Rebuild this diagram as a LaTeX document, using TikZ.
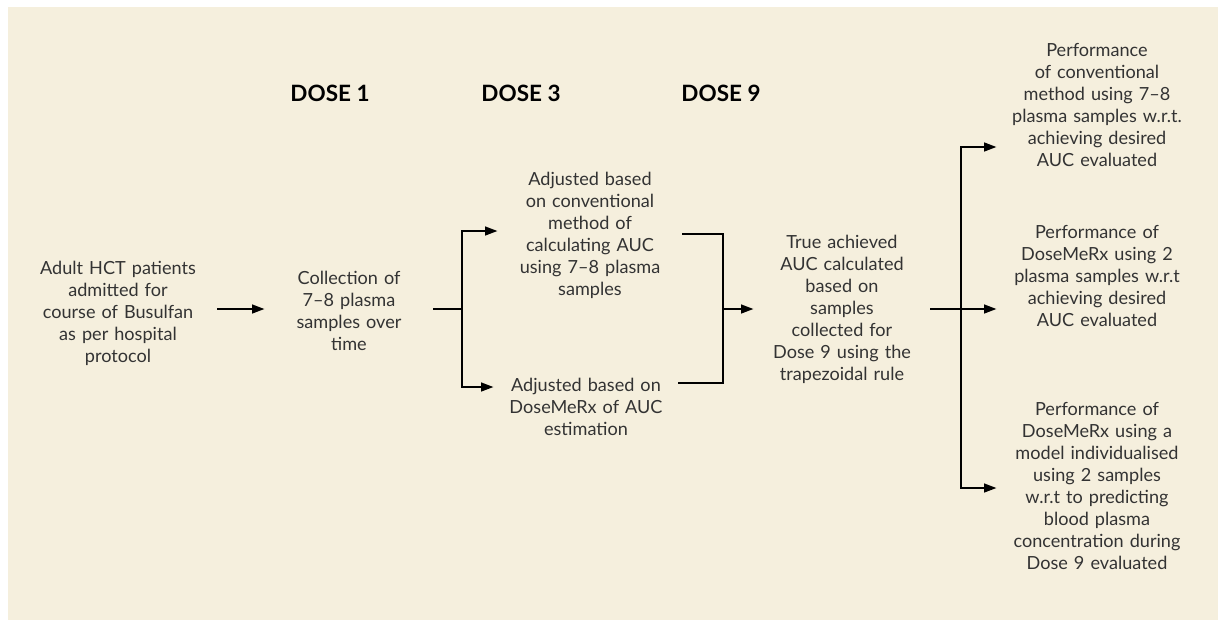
\documentclass[tikz,border=0pt]{standalone}
\usepackage{fontspec}
\setmainfont{Lato}
\usepackage{xcolor}
\usepackage{tikz}
\usetikzlibrary{arrows.meta}
\definecolor{flowbeige}{RGB}{245, 239, 221}
\definecolor{flowtext}{RGB}{51, 51, 51}

\begin{document}
\begin{tikzpicture}[x=0.02cm, y=-0.02cm,
    step text/.style={text=flowtext, align=center, inner sep=0pt,
                      font=\fontsize{10.3}{12.5}\selectfont},
    dose head/.style={text=black, font=\fontsize{12.8}{16}\selectfont\bfseries},
    link/.style={draw=black, line width=1.4pt},
    arr/.style={link, -{Triangle[length=0.25cm, width=0.17cm]}}]
            \useasboundingbox (0,0) rectangle (1218,620);
            \fill[flowbeige] (8,7) rectangle (1218,620);

            \node[dose head] (h1) at (330,93) {DOSE 1};
            \node[dose head] (h3) at (521,93) {DOSE 3};
            \node[dose head] (h9) at (721,93) {DOSE 9};

            \node[step text, text width=3.96cm] (adult) at (118,313)
                {Adult HCT patients\\ admitted for\\ course of Busulfan\\ as per hospital\\ protocol};
            \node[step text, text width=3.36cm] (collect) at (349,311)
                {Collection of\\ 7--8 plasma\\ samples over\\ time};
            \node[step text, text width=3.68cm] (conv) at (590,235)
                {Adjusted based\\ on conventional\\ method of\\ calculating AUC\\ using 7--8 plasma\\ samples};
            \node[step text, text width=3.68cm] (dmrx) at (586,407)
                {Adjusted based on\\ DoseMeRx of AUC\\ estimation};
            \node[step text, text width=3.52cm] (true) at (842,309)
                {True achieved\\ AUC calculated\\ based on\\ samples\\ collected for\\ Dose 9 using the\\ trapezoidal rule};
            \node[step text, text width=4cm] (perf1) at (1097,105)
                {Performance\\ of conventional\\ method using 7--8\\ plasma samples w.r.t.\\ achieving desired\\ AUC evaluated};
            \node[step text, text width=4cm] (perf2) at (1097,276)
                {Performance of\\ DoseMeRx using 2\\ plasma samples w.r.t\\ achieving desired\\ AUC evaluated};
            \node[step text, text width=4cm] (perf3) at (1097,486)
                {Performance of\\ DoseMeRx using a\\ model individualised\\ using 2 samples\\ w.r.t to predicting\\ blood plasma\\ concentration during\\ Dose 9 evaluated};

            \coordinate (split1) at (462,309);
            \coordinate (join) at (723,309);
            \coordinate (split2) at (961,309);

            \draw[arr] (adult.east |- split1) -- (collect.west |- split1);
            \draw[link] (collect.east |- split1) -- (split1);
            \draw[arr] (split1) |- ([yshift=0.08cm]conv.west);
            \draw[arr] (split1) |- ([yshift=0.4cm]dmrx.west);
            \draw[link] ([yshift=0.02cm]conv.east) -| (join) |- ([yshift=0.48cm]dmrx.east);
            \draw[arr] (join) -- (true.west |- join);
            \draw[link] (true.east |- split2) -- (split2);
            \draw[arr] (split2) |- ([yshift=-0.84cm]perf1.west);
            \draw[arr] (split2) |- ([yshift=-0.66cm]perf2.west);
            \draw[arr] (split2) |- ([yshift=-0.04cm]perf3.west);
        \end{tikzpicture}
\end{document}
